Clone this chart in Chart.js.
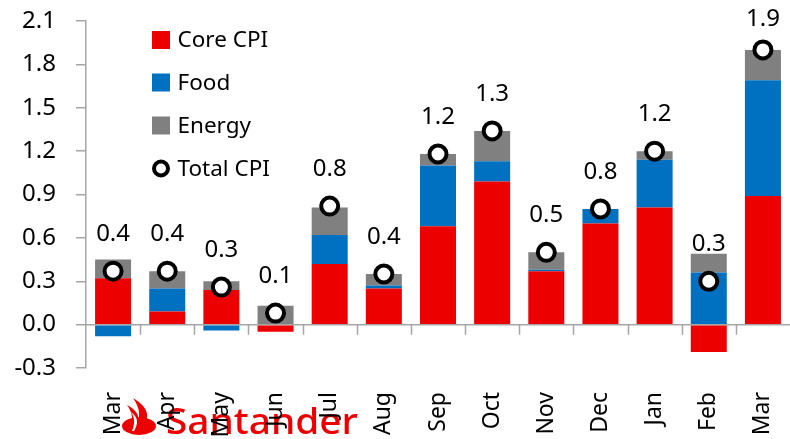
<!DOCTYPE html>
<html>
<head>
<meta charset="utf-8">
<script src="https://cdn.jsdelivr.net/npm/chart.js@4/dist/chart.umd.min.js"></script>
<style>
html,body{margin:0;padding:0;background:#fff;}
#wrap{width:790px;height:439px;position:relative;}
</style>
</head>
<body>
<div id="wrap"><canvas id="c" width="790" height="439"></canvas></div>
<script>
const categories = ['Mar','Apr','May','Jun','Jul','Aug','Sep','Oct','Nov','Dec','Jan','Feb','Mar'];
const coreCPI   = [0.32, 0.09, 0.24, -0.05, 0.42, 0.25, 0.68, 0.99, 0.37, 0.70, 0.81, -0.19, 0.89];
const food      = [-0.08, 0.16, -0.04, 0.00, 0.20, 0.02, 0.42, 0.14, 0.01, 0.10, 0.33, 0.36, 0.80];
const energy    = [0.13, 0.12, 0.06, 0.13, 0.19, 0.08, 0.08, 0.21, 0.12, 0.00, 0.06, 0.13, 0.21];
const totalCPI  = [0.37, 0.37, 0.26, 0.08, 0.82, 0.35, 1.18, 1.34, 0.50, 0.80, 1.20, 0.30, 1.90];
const totalLabels = ['0.4','0.4','0.3','0.1','0.8','0.4','1.2','1.3','0.5','0.8','1.2','0.3','1.9'];
const yTicks = [-0.3, 0.0, 0.3, 0.6, 0.9, 1.2, 1.5, 1.8, 2.1];

const FONT = '"Noto Sans", "Open Sans", sans-serif';
const RED = '#ec0000', BLUE = '#0070c0', GREY = '#808080', AXIS = '#a6a6a6';

// line controller that does not reserve extra padding for its markers
class MarkerLine extends Chart.LineController {
  getMaxOverflow() { return 0; }
}
MarkerLine.id = 'markerLine';
MarkerLine.defaults = Chart.LineController.defaults;
MarkerLine.overrides = Chart.LineController.overrides;
Chart.register(MarkerLine);

const overlay = {
  id: 'overlay',
  beforeDraw(chart) {
    const ctx = chart.ctx;
    ctx.save();
    ctx.fillStyle = RED;
    ctx.beginPath();
    ctx.ellipse(139, 426, 17, 9, 0, 0, Math.PI * 2);
    ctx.fill();
    ctx.beginPath();
    ctx.moveTo(133, 398);
    ctx.bezierCurveTo(150, 408, 150, 418, 142, 428);
    ctx.lineTo(134, 428);
    ctx.bezierCurveTo(142, 418, 140, 408, 133, 398);
    ctx.fill();
    ctx.beginPath();
    ctx.moveTo(127, 405);
    ctx.bezierCurveTo(142, 413, 140, 422, 134, 430);
    ctx.lineTo(128, 430);
    ctx.bezierCurveTo(134, 422, 133, 413, 127, 405);
    ctx.fill();
    ctx.fillStyle = '#fff';
    ctx.beginPath();
    ctx.moveTo(131, 412);
    ctx.bezierCurveTo(139, 418, 138, 424, 134, 431);
    ctx.lineTo(132, 431);
    ctx.bezierCurveTo(135, 424, 135, 418, 131, 412);
    ctx.fill();
    ctx.fillStyle = RED;
    ctx.font = '500 37px ' + FONT;
    ctx.textBaseline = 'alphabetic';
    ctx.textAlign = 'left';
    const w = ctx.measureText('Santander').width;
    ctx.translate(166, 434);
    ctx.scale(192 / w, 1);
    ctx.fillText('Santander', 0, 0);
    ctx.restore();
  },
  beforeDatasetsDraw(chart) {
    const ctx = chart.ctx, x = chart.scales.x, y = chart.scales.y;
    const y0 = y.getPixelForValue(0);
    ctx.save();
    ctx.strokeStyle = AXIS;
    ctx.lineWidth = 1.5;
    ctx.beginPath();
    ctx.moveTo(chart.chartArea.left, y0);
    ctx.lineTo(chart.chartArea.right, y0);
    const n = categories.length;
    const step = (x.right - x.left) / n;
    for (let k = 1; k < n; k++) {
      const px = Math.round(x.left + k * step) + 0.5;
      ctx.moveTo(px, y0);
      ctx.lineTo(px, y0 + 10);
    }
    ctx.stroke();
    ctx.restore();
  },
  afterDraw(chart) {
    const ctx = chart.ctx;
    const meta = chart.getDatasetMeta(3);
    ctx.save();
    ctx.fillStyle = '#000';
    ctx.font = '24px ' + FONT;
    ctx.textAlign = 'center';
    ctx.textBaseline = 'middle';
    meta.data.forEach((pt, i) => {
      const ly = Math.max(pt.y - 37, 19);
      ctx.fillText(totalLabels[i], pt.x, ly);
    });
    const items = chart.data.datasets;
    const ys = [40, 82.5, 125.5, 168.5];
    ctx.textAlign = 'left';
    ctx.font = '22.5px ' + FONT;
    items.forEach((ds, i) => {
      const cy = ys[i];
      if (i < 3) {
        ctx.fillStyle = ds.backgroundColor;
        ctx.fillRect(152, cy - 9, 18, 18);
      } else {
        ctx.beginPath();
        ctx.arc(161, cy, 7, 0, Math.PI * 2);
        ctx.fillStyle = '#fff';
        ctx.fill();
        ctx.lineWidth = 4;
        ctx.strokeStyle = '#000';
        ctx.stroke();
      }
      ctx.fillStyle = '#000';
      ctx.fillText(ds.label, 177.5, cy + 1);
    });
    ctx.restore();
  }
};

new Chart(document.getElementById('c'), {
  data: {
    labels: categories,
    datasets: [
      { type: 'bar', label: 'Core CPI', data: coreCPI, backgroundColor: RED, stack: 'cpi', order: 1 },
      { type: 'bar', label: 'Food', data: food, backgroundColor: BLUE, stack: 'cpi', order: 1 },
      { type: 'bar', label: 'Energy', data: energy, backgroundColor: GREY, stack: 'cpi', order: 1 },
      { type: 'markerLine', label: 'Total CPI', data: totalCPI, stack: 'total', showLine: false, clip: false,
        pointRadius: 8.5, pointHoverRadius: 8.5, borderWidth: 4, pointBorderWidth: 4,
        borderColor: '#000', backgroundColor: '#fff', pointBackgroundColor: '#fff', order: 0 }
    ]
  },
  options: {
    responsive: false,
    animation: false,
    events: [],
    layout: { padding: { top: 21, right: 0, left: 0, bottom: 0 } },
    datasets: { bar: { categoryPercentage: 1.0, barPercentage: 0.665 } },
    plugins: { legend: { display: false }, tooltip: { enabled: false } },
    scales: {
      x: {
        stacked: true,
        grid: { display: false, drawTicks: false },
        border: { display: false },
        ticks: { color: '#000', font: { family: FONT, size: 23 }, minRotation: 90, maxRotation: 90, padding: 24, autoSkip: false },
        afterFit(s) { s.height = 71; s.paddingLeft = 0; s.paddingRight = 0; }
      },
      y: {
        stacked: true,
        min: -0.3, max: 2.1,
        afterBuildTicks(s) { s.ticks = yTicks.map(v => ({ value: v })); },
        grid: { drawOnChartArea: false, drawTicks: true, tickLength: 10, color: AXIS, lineWidth: 1.5 },
        border: { display: true, color: AXIS, width: 1.5 },
        ticks: { color: '#000', font: { family: FONT, size: 24 }, padding: 20, callback: v => v.toFixed(1) },
        afterFit(s) { s.width = 86; s.paddingTop = 0; s.paddingBottom = 0; }
      }
    }
  },
  plugins: [overlay]
});
</script>
</body>
</html>
